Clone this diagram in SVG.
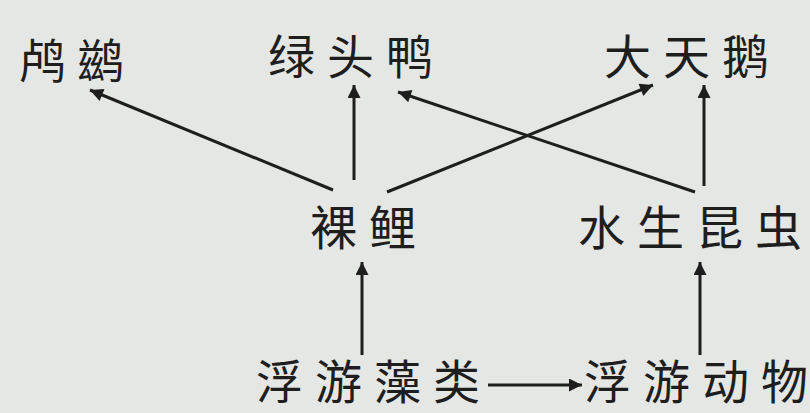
<svg xmlns="http://www.w3.org/2000/svg" width="810" height="413" viewBox="0 0 810 413">
<style>
.bg{fill:#e5e7e4}
.t{font-family:"Noto Sans CJK SC","Noto Sans",sans-serif;font-size:47px;fill:#1e1e1e}
.e{stroke:#1e1e1e;stroke-width:3;fill:none;marker-end:url(#ah)}
</style>
<defs>
<marker id="ah" viewBox="0 0 10 10" refX="10" refY="5" markerUnits="userSpaceOnUse" markerWidth="24" markerHeight="13" orient="auto">
<path d="M0,0 L10,5 L0,10 z" fill="#1e1e1e"/>
</marker>
</defs>
<rect class="bg" x="0" y="0" width="810" height="413"/>
<g id="connectors">
<line class="e" x1="333" y1="190" x2="90" y2="90"/>
<line class="e" x1="354" y1="180" x2="354" y2="85"/>
<line class="e" x1="387" y1="192" x2="653" y2="85"/>
<line class="e" x1="695" y1="192" x2="398" y2="92"/>
<line class="e" x1="704" y1="186" x2="704" y2="85"/>
<line class="e" x1="362" y1="355" x2="362" y2="262"/>
<line class="e" x1="700" y1="355" x2="700" y2="262"/>
<line class="e" x1="488" y1="385" x2="582" y2="385"/>
</g>
<g id="n-luci"><text class="t" x="19 77" y="78">鸬鹚</text></g>
<g id="n-lvtouya"><text class="t" x="268 327 386" y="74">绿头鸭</text></g>
<g id="n-datiane"><text class="t" x="604 663 722" y="74">大天鹅</text></g>
<g id="n-luoli"><text class="t" x="310 369" y="245">裸鲤</text></g>
<g id="n-shengkunchong"><text class="t" x="578 637 696 755" y="245">水生昆虫</text></g>
<g id="n-zaolei"><text class="t" x="256 315 374 433" y="399">浮游藻类</text></g>
<g id="n-dongwu"><text class="t" x="584 643 702 761" y="399">浮游动物</text></g>
</svg>
